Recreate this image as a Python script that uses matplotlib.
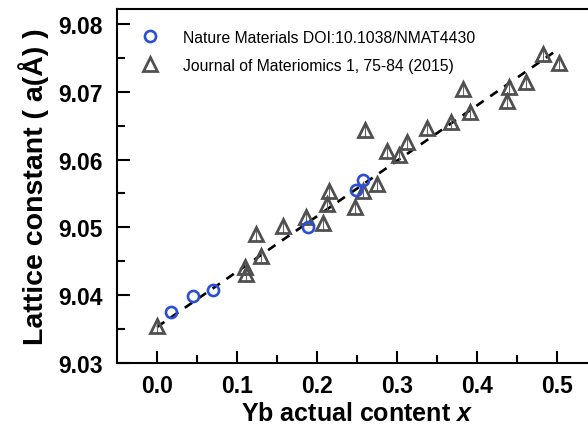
import numpy as np
import matplotlib
matplotlib.use("Agg")
import matplotlib.pyplot as plt

plt.rcParams['font.family'] = 'Liberation Sans'
plt.rcParams['mathtext.fontset'] = 'custom'
plt.rcParams['mathtext.it'] = 'Liberation Sans:bold:italic'

# Nature Materials points
nm_x = [0.018, 0.045, 0.070, 0.189, 0.249, 0.258]
nm_y = [9.0375, 9.0399, 9.0407, 9.0501, 9.0555, 9.0570]

# Journal of Materiomics points
jm_x = [0.0, 0.110, 0.111, 0.124, 0.130, 0.157, 0.186, 0.208, 0.212, 0.215,
        0.2475, 0.258, 0.260, 0.2745, 0.287, 0.303, 0.313, 0.337, 0.368,
        0.383, 0.391, 0.437, 0.440, 0.461, 0.482, 0.502]
jm_y = [9.0355, 9.0441, 9.0431, 9.0490, 9.0458, 9.0502, 9.0516, 9.0506,
        9.0535, 9.0554, 9.0530, 9.0554, 9.0644, 9.0564, 9.0613, 9.0606,
        9.0626, 9.0646, 9.0655, 9.0704, 9.0670, 9.0687, 9.0707, 9.0715,
        9.0756, 9.0743]
jm_err = 0.0011

# linear fit line end points
fit_x = [0.0, 0.497]
fit_y = [9.0353, 9.0759]

fig = plt.figure(figsize=(5.88, 4.31), dpi=100)
ax = fig.add_axes([0.199, 0.1555, 0.8163, 0.8213])

ax.plot(fit_x, fit_y, color='black', lw=1.9, dashes=(3.4, 3.0), zorder=2)
ax.errorbar(jm_x, jm_y, yerr=jm_err, fmt='none', ecolor='#666666',
            elinewidth=0.8, capsize=0, zorder=3)
ax.plot(jm_x, jm_y, '^', ms=10.5, mfc='none', mec='#505050', mew=2.0,
        ls='none', zorder=4, label='Journal of Materiomics 1, 75-84 (2015)')
ax.plot(nm_x, nm_y, 'o', ms=8, mfc='none', mec='#2a4fd4', mew=1.9,
        ls='none', zorder=5, label='Nature Materials DOI:10.1038/NMAT4430')

h, l = ax.get_legend_handles_labels()
ax.legend(h[::-1], l[::-1], loc='upper left', bbox_to_anchor=(0.052, 0.941),
          frameon=False, fontsize=11.3, handlelength=1.0, handletextpad=1.6,
          labelspacing=0.82, borderpad=0, borderaxespad=0)

ax.set_xlim(-0.05, 0.55)
ax.set_ylim(9.03, 9.0822)
ax.set_xticks([0.0, 0.1, 0.2, 0.3, 0.4, 0.5])
ax.set_xticks([0.05, 0.15, 0.25, 0.35, 0.45], minor=True)
ax.set_yticks([9.03, 9.04, 9.05, 9.06, 9.07, 9.08])
ax.set_yticks([9.035, 9.045, 9.055, 9.065, 9.075], minor=True)
ax.set_xticklabels(['0.0', '0.1', '0.2', '0.3', '0.4', '0.5'])
ax.set_yticklabels(['9.03', '9.04', '9.05', '9.06', '9.07', '9.08'])

ax.tick_params(which='both', direction='in', width=1.5, top=False, right=False)
ax.tick_params(which='major', length=9, labelsize=16.5)
ax.tick_params(axis='x', which='major', pad=8)
ax.tick_params(axis='y', which='major', pad=10)
ax.tick_params(which='minor', length=5.5)
for lab in ax.get_xticklabels() + ax.get_yticklabels():
    lab.set_fontweight('bold')
for sp in ax.spines.values():
    sp.set_linewidth(1.5)

ax.set_xlabel('Yb actual content $x$', fontsize=18, fontweight='bold', labelpad=3)
ax.set_ylabel('Lattice constant ( a(Å) )', fontsize=20.5, fontweight='bold', labelpad=7)

fig.savefig('out.png', dpi=100)
